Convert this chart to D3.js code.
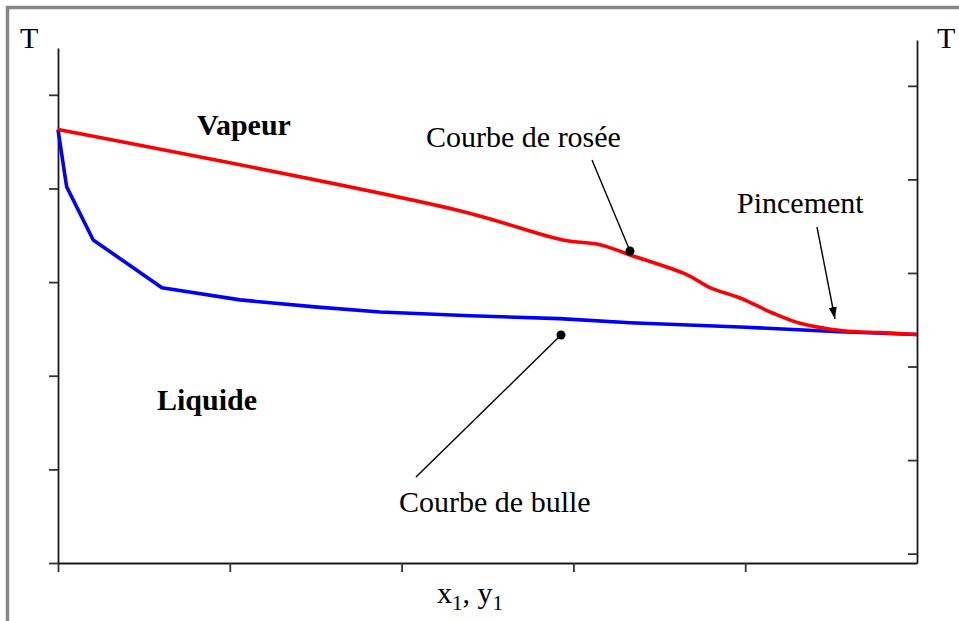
<!DOCTYPE html>
<html>
<head>
<meta charset="utf-8">
<script src="https://cdn.jsdelivr.net/npm/d3@7"></script>
<style>
  body { margin: 0; background: #fff; }
  svg { display: block; }
  text { font-family: "Liberation Serif", "Times New Roman", serif; fill: #000; }
</style>
</head>
<body>
<svg></svg>
<script>
var width = 959;
var height = 621;

// composition x1 / y1 (0..1) and temperature (arbitrary units)
var dewX = [0, 0.464, 0.588, 0.631, 0.666, 0.732, 0.759, 0.794, 0.832, 0.864, 0.914, 0.957, 1];
var dewT = [4.63, 3.77, 3.45, 3.40, 3.29, 3.08, 2.94, 2.83, 2.67, 2.56, 2.48, 2.46, 2.44];
var bubbleX = [0, 0.010, 0.041, 0.121, 0.212, 0.299, 0.375, 0.480, 0.584, 0.666, 0.794, 0.910, 1];
var bubbleT = [4.63, 4.02, 3.45, 2.94, 2.81, 2.735, 2.68, 2.64, 2.61, 2.565, 2.52, 2.47, 2.44];

var xTicks = [0, 0.2, 0.4, 0.6, 0.8];
var leftTicks = [0, 1, 2, 3, 4, 5];
var rightTicks = [0.1, 1.1, 2.1, 3.1, 4.1, 5.1];

var svg = d3.select('svg')
  .attr('width', width)
  .attr('height', height);

svg.append('rect')
  .attr('width', width)
  .attr('height', height)
  .attr('fill', '#fff');

// grey frame, cut off on the right and bottom
svg.append('rect')
  .attr('x', 7.5)
  .attr('y', 7.5)
  .attr('width', width + 20)
  .attr('height', height + 20)
  .attr('fill', 'none')
  .attr('stroke', '#878787')
  .attr('stroke-width', 3.5);

var x = d3.scaleLinear().domain([0, 1]).range([58, 917]);
var y = d3.scaleLinear().domain([0, 5.5]).range([563, 48]);
var yRight = d3.scaleLinear().domain([0, 5.59]).range([563, 40]);

function styleAxis (g) {
    g.select('.domain').attr('stroke', '#1a1a1a').attr('stroke-width', 1.8);
    g.selectAll('.tick line').attr('stroke', '#333').attr('stroke-width', 1.8);
    g.selectAll('.tick text').remove();
}

svg.append('g')
  .attr('transform', 'translate(0,' + y(0) + ')')
  .call(d3.axisBottom(x).tickValues(xTicks).tickSize(9).tickSizeOuter(0).tickFormat(''))
  .call(styleAxis);

svg.append('g')
  .attr('transform', 'translate(' + x(0) + ',0)')
  .call(d3.axisLeft(y).tickValues(leftTicks).tickSize(9).tickSizeOuter(0).tickFormat(''))
  .call(styleAxis);

svg.append('g')
  .attr('transform', 'translate(' + x(1) + ',0)')
  .call(d3.axisLeft(yRight).tickValues(rightTicks).tickSize(9).tickSizeOuter(0).tickFormat(''))
  .call(styleAxis);

var dew = dewX.map(function (d, i) { return [d, dewT[i]]; });
var bubble = bubbleX.map(function (d, i) { return [d, bubbleT[i]]; });

var line = d3.line()
  .x(function (d) { return x(d[0]); })
  .y(function (d) { return y(d[1]); });

svg.append('path')
  .datum(bubble)
  .attr('fill', 'none')
  .attr('stroke', '#0000ff')
  .attr('stroke-width', 3.6)
  .attr('stroke-linejoin', 'round')
  .attr('d', line);

svg.append('path')
  .datum(dew)
  .attr('fill', 'none')
  .attr('stroke', '#ff0000')
  .attr('stroke-width', 3.6)
  .attr('stroke-linejoin', 'round')
  .attr('d', line.curve(d3.curveCatmullRom));

// axis titles
svg.append('text').attr('x', 20).attr('y', 48).attr('font-size', 30).text('T');
svg.append('text').attr('x', 937).attr('y', 48).attr('font-size', 30).text('T');

var xl = svg.append('text').attr('x', 437).attr('y', 603).attr('font-size', 30);
xl.append('tspan').text('x');
xl.append('tspan').attr('font-size', 21).attr('dy', 7).text('1');
xl.append('tspan').attr('dy', -7).text(', y');
xl.append('tspan').attr('font-size', 21).attr('dy', 7).text('1');

// region labels
svg.append('text').attr('x', 197).attr('y', 135).attr('font-size', 30)
  .attr('font-weight', 'bold').text('Vapeur');
svg.append('text').attr('x', 157).attr('y', 410).attr('font-size', 30)
  .attr('font-weight', 'bold').text('Liquide');

// annotations
svg.append('text').attr('x', 426).attr('y', 147).attr('font-size', 30).text('Courbe de rosée');
svg.append('text').attr('x', 399).attr('y', 512).attr('font-size', 30).text('Courbe de bulle');
svg.append('text').attr('x', 737).attr('y', 213).attr('font-size', 30).text('Pincement');

svg.append('defs').append('marker')
  .attr('id', 'head')
  .attr('viewBox', '0 0 12 8')
  .attr('refX', 12)
  .attr('refY', 4)
  .attr('markerWidth', 12)
  .attr('markerHeight', 8)
  .attr('markerUnits', 'userSpaceOnUse')
  .attr('orient', 'auto')
  .append('path')
  .attr('d', 'M0,0 L12,4 L0,8 Z')
  .attr('fill', '#000');

svg.append('line')
  .attr('x1', 592).attr('y1', 160).attr('x2', 630).attr('y2', 251)
  .attr('stroke', '#000').attr('stroke-width', 1.4);
svg.append('circle').attr('cx', 630).attr('cy', 251).attr('r', 4.5).attr('fill', '#000');

svg.append('line')
  .attr('x1', 416).attr('y1', 477).attr('x2', 561).attr('y2', 335)
  .attr('stroke', '#000').attr('stroke-width', 1.4);
svg.append('circle').attr('cx', 561).attr('cy', 335).attr('r', 4.5).attr('fill', '#000');

svg.append('line')
  .attr('x1', 817).attr('y1', 227).attr('x2', 835).attr('y2', 319)
  .attr('stroke', '#000').attr('stroke-width', 1.4)
  .attr('marker-end', 'url(#head)');
</script>
</body>
</html>
